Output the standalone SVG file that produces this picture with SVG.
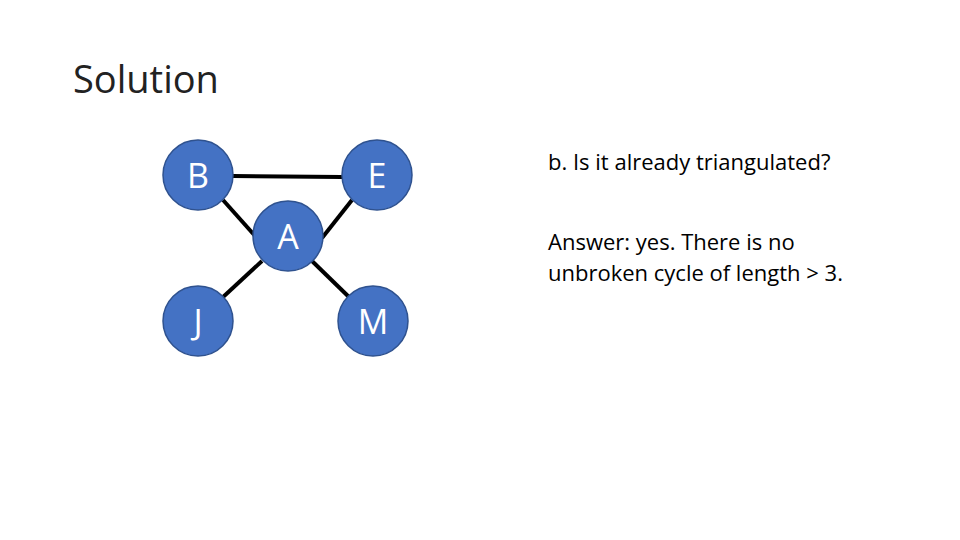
<svg xmlns="http://www.w3.org/2000/svg" width="960" height="540" viewBox="0 0 960 540">
<style>
.n{fill:#4472C4;stroke:#2F528F;stroke-width:1.5}
.l{fill:#fff;font-family:"Open Sans","Liberation Sans",sans-serif;font-size:34px;text-anchor:middle;dominant-baseline:central}
.e{stroke:#000;stroke-width:4}
.t{font-family:"Open Sans","Liberation Sans",sans-serif;font-size:22px;fill:#000}
</style>
<rect width="960" height="540" fill="#fff"/>
<text x="73" y="93" font-family="Open Sans, Liberation Sans, sans-serif" font-size="38" fill="#222">Solution</text>
<g id="connectors">
<line class="e" x1="233" y1="176" x2="342" y2="177"/>
<line class="e" x1="223" y1="200" x2="256" y2="237"/>
<line class="e" x1="352" y1="200" x2="322" y2="238"/>
<line class="e" x1="262" y1="261" x2="222" y2="298"/>
<line class="e" x1="312" y1="261" x2="350" y2="298"/>
</g>
<g id="B"><circle class="n" cx="198" cy="175" r="35"/><text class="l" x="198" y="175">B</text></g>
<g id="E"><circle class="n" cx="377" cy="175" r="35"/><text class="l" x="377" y="175">E</text></g>
<g id="A"><circle class="n" cx="288" cy="236" r="35"/><text class="l" x="288" y="236">A</text></g>
<g id="J"><circle class="n" cx="198" cy="321" r="35"/><text class="l" x="198" y="321">J</text></g>
<g id="M"><circle class="n" cx="373" cy="321" r="35"/><text class="l" x="373" y="321">M</text></g>
<text class="t" x="548" y="170">b. Is it already triangulated?</text>
<text class="t" x="548" y="250">Answer: yes.  There is no</text>
<text class="t" x="548" y="281">unbroken cycle of length &gt; 3.</text>
</svg>
